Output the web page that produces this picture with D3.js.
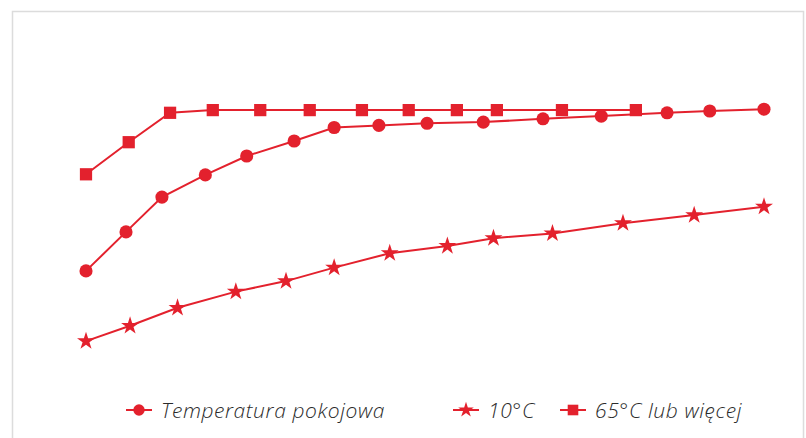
<!DOCTYPE html>
<html>
<head>
<meta charset="utf-8">
<script src="https://cdn.jsdelivr.net/npm/d3@7"></script>
<style>
  html, body { margin: 0; padding: 0; background: #fff; }
  svg { display: block; }
</style>
</head>
<body>
<div id="chart"></div>
<script>
// serie danych (x w umownych jednostkach 0-100, y 0-100)
const roomX = [0, 5.9, 11.2, 17.6, 23.7, 30.7, 36.6, 43.2, 50.3, 58.6, 67.4, 76, 85.7, 92, 100];
const roomY = [39.7, 52.7, 64.3, 71.7, 78, 83, 87.5, 88.2, 88.9, 89.3, 90.4, 91.3, 92.4, 93, 93.6];

const coldX = [0, 6.5, 13.5, 22.1, 29.5, 36.6, 44.8, 53.3, 60.1, 68.8, 79.2, 89.7, 100];
const coldY = [16.3, 21.4, 27.4, 32.8, 36.3, 40.8, 45.6, 48, 50.6, 52.2, 55.6, 58.3, 61.1];

const hotX = [0, 6.3, 12.4, 18.7, 25.7, 33, 40.7, 47.6, 54.7, 60.6, 70.2, 81.1];
const hotY = [71.9, 82.6, 92.4, 93.3, 93.3, 93.3, 93.3, 93.3, 93.3, 93.3, 93.3, 93.3];

const seriesNames = ['Temperatura pokojowa', '10°C', '65°C lub więcej'];

const RED = '#e3212d';
const width = 806, height = 438;

const svg = d3.select('#chart').append('svg')
    .attr('width', width)
    .attr('height', height);

// ramka
svg.append('path')
    .attr('d', `M12.5,${height + 5} V11.5 H803.5 V${height + 5}`)
    .attr('fill', 'none')
    .attr('stroke', '#dcdcdc')
    .attr('stroke-width', 1.5);

const x = d3.scaleLinear().domain([0, 100]).range([86, 764]);
const y = d3.scaleLinear().domain([0, 100]).range([390, 90]);

const series = [
    { name: seriesNames[0], xs: roomX, ys: roomY, symbol: d3.symbolCircle, size: 135 },
    { name: seriesNames[1], xs: coldX, ys: coldY, symbol: d3.symbolStar, size: 100 },
    { name: seriesNames[2], xs: hotX, ys: hotY, symbol: d3.symbolSquare, size: 150 }
];

const line = d3.line()
    .x(d => x(d[0]))
    .y(d => y(d[1]));

series.forEach(s => {
    const pts = s.xs.map((v, i) => [v, s.ys[i]]);
    const g = svg.append('g');

    g.append('path')
        .datum(pts)
        .attr('d', line)
        .attr('fill', 'none')
        .attr('stroke', RED)
        .attr('stroke-width', 2);

    g.selectAll('.pt')
        .data(pts)
        .enter()
        .append('path')
        .attr('class', 'pt')
        .attr('transform', d => `translate(${x(d[0])},${y(d[1])})`)
        .attr('d', d3.symbol().type(s.symbol).size(s.size))
        .attr('fill', RED);
});

// legenda
const legendY = 410;
const legendPos = [139, 466, 573];
const legend = svg.append('g');

series.forEach((s, i) => {
    const cx = legendPos[i];
    const item = legend.append('g').attr('transform', `translate(${cx},${legendY})`);
    item.append('line')
        .attr('x1', -13).attr('x2', 13)
        .attr('stroke', RED)
        .attr('stroke-width', 2);
    item.append('path')
        .attr('d', d3.symbol().type(s.symbol).size(s.size * 0.75))
        .attr('fill', RED);
    item.append('text')
        .attr('x', 22)
        .attr('y', 7.5)
        .attr('fill', '#2b2b2b')
        .style('font-family', '"Open Sans", Lato, sans-serif')
        .style('font-style', 'italic')
        .style('font-weight', 300)
        .style('font-size', '21px')
        .style('letter-spacing', '0.6px')
        .text(s.name);
});
</script>
</body>
</html>
